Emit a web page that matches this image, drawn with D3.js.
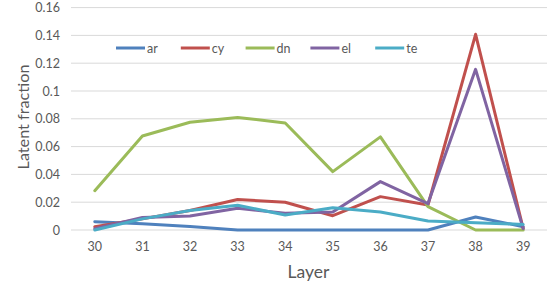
<!DOCTYPE html>
<html><head><meta charset="utf-8">
<script src="https://cdn.jsdelivr.net/npm/d3@7"></script>
<style>html,body{margin:0;padding:0;background:#fff;} svg{display:block;font-family:Lato,"Open Sans",sans-serif;}</style>
</head><body>
<svg id="c" width="548" height="286"></svg>
<script>
const layers = [30,31,32,33,34,35,36,37,38,39];
const seriesNames = ["ar","cy","dn","el","te"];
const ar = [0.006,0.0045,0.0025,0,0,0,0,0,0.0094,0.0024];
const cy = [0.0024,0.008,0.014,0.022,0.020,0.0103,0.024,0.018,0.1408,0.001];
const dn = [0.0283,0.0676,0.0775,0.081,0.077,0.042,0.067,0.0168,0,0];
const el = [0.001,0.009,0.010,0.0156,0.012,0.013,0.0348,0.019,0.1156,0.001];
const te = [0,0.008,0.014,0.0178,0.0108,0.016,0.013,0.0065,0.0053,0.004];
const yTicks = [0,0.02,0.04,0.06,0.08,0.1,0.12,0.14,0.16];
const colors = ["#4F81BD","#C0504D","#9BBB59","#8064A2","#4BACC6"];
const values = [ar,cy,dn,el,te];

const svg = d3.select("#c");
const L=71,R=547,T=7.6,B=230;
const x = d3.scaleBand().domain(layers).range([L,R]);
const y = d3.scaleLinear().domain([0,0.16]).range([B,T]);

// gridlines
svg.append("g").selectAll("line").data(yTicks).join("line")
  .attr("x1",L).attr("x2",R).attr("y1",d=>y(d)).attr("y2",d=>y(d))
  .attr("stroke","#D9D9D9").attr("stroke-width",1);

// y axis
const ya = svg.append("g").attr("transform",`translate(${L},0)`)
  .call(d3.axisLeft(y).tickValues(yTicks).tickSize(0).tickPadding(11).tickFormat(d=>d3.format("")(+d.toFixed(2))));
ya.select(".domain").remove();
ya.selectAll("text").attr("fill","#595959").attr("font-size",12.5).attr("font-family","Lato,'Open Sans',sans-serif");

// x axis
const xa = svg.append("g").attr("transform",`translate(0,${B})`)
  .call(d3.axisBottom(x).tickSize(0).tickPadding(12));
xa.select(".domain").remove();
xa.selectAll("text").attr("fill","#595959").attr("font-size",12.5).attr("font-family","Lato,'Open Sans',sans-serif");

// lines
const line = d3.line().x((d,i)=>x(layers[i])+x.bandwidth()/2).y(d=>y(d));
svg.append("g").selectAll("path").data(values).join("path")
  .attr("d",d=>line(d)).attr("fill","none")
  .attr("stroke",(d,i)=>colors[i]).attr("stroke-width",3).attr("stroke-linejoin","round").attr("stroke-linecap","round");

// legend
const lg = svg.append("g").selectAll("g").data(seriesNames).join("g")
  .attr("transform",(d,i)=>`translate(${116+i*64.8},48)`);
lg.append("line").attr("x1",0).attr("x2",29).attr("y1",0).attr("y2",0)
  .attr("stroke",(d,i)=>colors[i]).attr("stroke-width",3);
lg.append("text").attr("x",31).attr("y",4.5).text(d=>d).attr("fill","#595959").attr("font-size",12.5);

// axis titles
svg.append("text").attr("x",308.5).attr("y",278).attr("text-anchor","middle")
  .attr("fill","#595959").attr("font-size",17.5).text("Layer");
svg.append("text").attr("transform","translate(29,117) rotate(-90)").attr("text-anchor","middle")
  .attr("fill","#595959").attr("font-size",16.2).text("Latent fraction");
</script>
</body></html>
